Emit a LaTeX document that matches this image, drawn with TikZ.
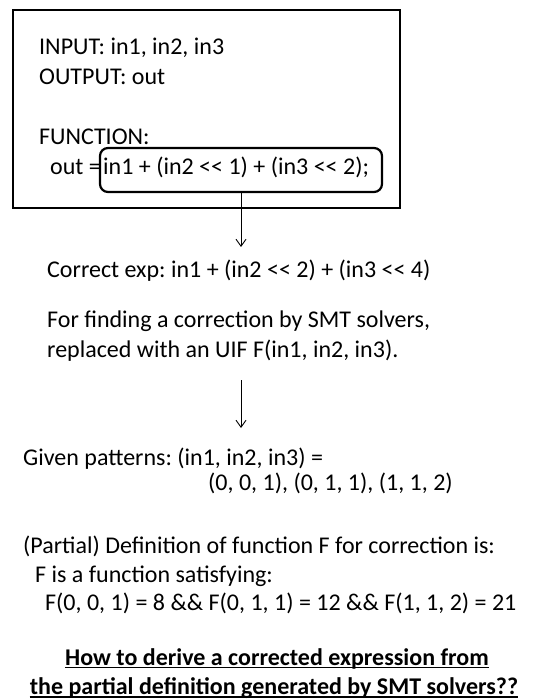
\documentclass[tikz,border=0pt]{standalone}
\usepackage{fontspec}
\setmainfont{Carlito}
\usetikzlibrary{arrows.meta}
\frenchspacing
\newcommand{\shl}{<\kern0pt<}
\begin{document}
\begin{tikzpicture}[x=1pt,y=-1pt,
  txt/.style={anchor=base west,inner sep=0pt,font=\fontsize{24}{28}\selectfont},
  btxt/.style={anchor=base,inner sep=0pt,font=\fontsize{24}{28}\selectfont\bfseries},
  conn/.style={line width=0.9pt,-{Straight Barb[length=7pt,width=10pt,line width=0.9pt]}},
  ul/.style={line width=1.4pt}]
\useasboundingbox (0,0) rectangle (548,700);
% outer program box
\node[draw,line width=2.6pt,minimum width=387pt,minimum height=198pt,inner sep=0pt] (prog) at (206.5,109) {};
\node[txt] (l1) at (39,55) {INPUT: in1, in2, in3};
\node[txt] (l2) at (39,85) {OUTPUT: out};
\node[txt] (l3) at (39,145) {FUNCTION:};
\node[txt] (l4) at (50,175) {out =};
\node[draw,line width=2.2pt,rounded corners=8pt,minimum width=282pt,minimum height=44pt,inner sep=0pt] (exprbox) at (241,170) {};
\node[txt] (expr) at (103,175) {in1 + (in2 \shl{} 1) + (in3 \shl{} 2);};
% arrow 1
\coordinate (a1) at (241,247);
\draw[conn] (exprbox.south) -- (a1);
\node[txt] (corr) at (47,277) {Correct exp: in1 + (in2 \shl{} 2) + (in3 \shl{} 4)};
\node[txt] (f1) at (47,327) {For finding a correction by SMT solvers,};
\node[txt] (f2) at (47,357) {replaced with an UIF F(in1, in2, in3).};
% arrow 2
\coordinate (a2s) at (241,380);
\coordinate (a2e) at (241,428);
\draw[conn] (a2s) -- (a2e);
\node[txt] (g1) at (23,465) {Given patterns: (in1, in2, in3) =};
\node[txt] (g2) at (208,490) {(0, 0, 1), (0, 1, 1), (1, 1, 2)};
\node[txt] (p1) at (23,553) {(Partial) Definition of function F for correction is:};
\node[txt] (p2) at (35,582) {F is a function satisfying:};
\node[txt] (p3) at (45,610) {F(0, 0, 1) = 8 \&\& F(0, 1, 1) = 12 \&\& F(1, 1, 2) = 21};
\node[btxt] (h1) at (277,665) {How to derive a corrected expression from};
\node[btxt] (h2) at (274,694.5) {the partial definition generated by SMT solvers??};
\draw[ul] ([yshift=-2.5pt]h1.base west) -- ([yshift=-2.5pt]h1.base east);
\draw[ul] ([yshift=-2.5pt]h2.base west) -- ([yshift=-2.5pt]h2.base east);
\end{tikzpicture}
\end{document}
